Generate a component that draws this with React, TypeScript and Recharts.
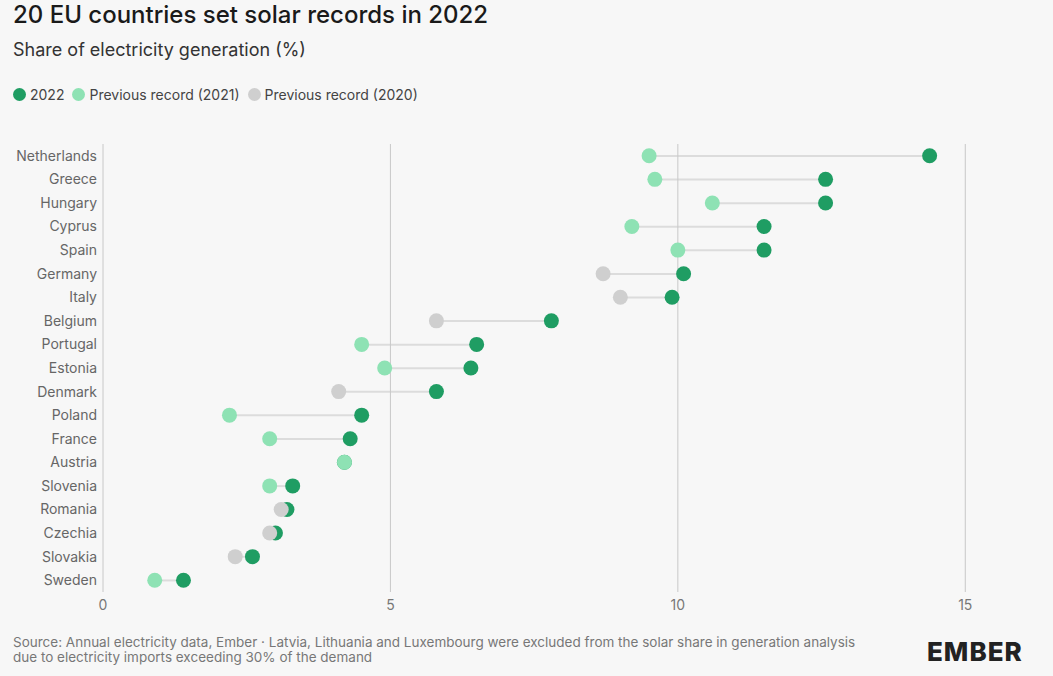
import React from 'react';
import { ComposedChart, Bar, Line, XAxis, YAxis, ReferenceLine } from 'recharts';

const countries = ['Netherlands', 'Greece', 'Hungary', 'Cyprus', 'Spain', 'Germany', 'Italy', 'Belgium', 'Portugal', 'Estonia', 'Denmark', 'Poland', 'France', 'Austria', 'Slovenia', 'Romania', 'Czechia', 'Slovakia', 'Sweden'];
const share2022 = [14.38, 12.57, 12.57, 11.5, 11.5, 10.1, 9.9, 7.8, 6.5, 6.4, 5.8, 4.5, 4.3, 4.2, 3.3, 3.2, 3.0, 2.6, 1.4];
const record2021 = [9.5, 9.6, 10.6, 9.2, 10.0, null, null, null, 4.5, 4.9, null, 2.2, 2.9, 4.2, 2.9, null, null, null, 0.9];
const record2020 = [null, null, null, null, null, 8.7, 9.0, 5.8, null, null, 4.1, null, null, null, null, 3.1, 2.9, 2.3, null];
const xTicks = [0, 5, 10, 15];

const C2022 = '#1f9d63';
const C2021 = '#8ee2b4';
const C2020 = '#cfcfcf';
const FONT = 'Inter, "Noto Sans", sans-serif';

const data = countries.map((name, i) => {
    const prev = record2021[i] ?? record2020[i] ?? share2022[i];
    return {
        name,
        v2022: share2022[i],
        v2021: record2021[i],
        v2020: record2020[i],
        range: [Math.min(share2022[i], prev), Math.max(share2022[i], prev)],
    };
});

const makeDot = (color: string) => (props: any) => {
    const { cx, cy, value, index } = props;
    if (value == null || cx == null) return <g key={index} />;
    return <circle key={index} cx={cx} cy={cy} r={7.5} fill={color} />;
};

const LegendItem = ({ color, label }: { color: string; label: string }) => (
    <span style={{ display: 'inline-flex', alignItems: 'center', marginRight: 8 }}>
        <span style={{ width: 13, height: 13, borderRadius: '50%', background: color, display: 'inline-block', marginRight: 4 }} />
        {label}
    </span>
);

export default function App() {
    return (
        <div style={{ position: 'fixed', left: 0, top: 0, width: 1053, height: 676, background: '#f7f7f7', fontFamily: FONT, color: '#222' }}>
            <div style={{ position: 'absolute', left: 13, top: 0, fontSize: 24, fontWeight: 500, color: '#1a1a1a' }}>20 EU countries set solar records in 2022</div>
            <div style={{ position: 'absolute', left: 13, top: 39, fontSize: 18, color: '#333' }}>Share of electricity generation (%)</div>
            <div style={{ position: 'absolute', left: 13, top: 86, fontSize: 14, color: '#444' }}>
                <LegendItem color={C2022} label="2022" />
                <LegendItem color={C2021} label="Previous record (2021)" />
                <LegendItem color={C2020} label="Previous record (2020)" />
            </div>
            <div style={{ position: 'absolute', left: 0, top: 0 }}>
                <ComposedChart width={1053} height={676} data={data} layout="vertical" margin={{ top: 144, right: 13, bottom: 54, left: 0 }}>
                    <XAxis type="number" domain={[0, 16.3]} ticks={xTicks} axisLine={false} tickLine={false} tick={{ fill: '#777', fontSize: 14, fontFamily: FONT }} />
                    <YAxis type="category" dataKey="name" width={103} axisLine={false} tickLine={false} tick={{ fill: '#666', fontSize: 14, fontFamily: FONT }} tickMargin={0} />
                    {xTicks.map((t) => (
                        <ReferenceLine key={t} x={t} stroke="#c8c8c8" />
                    ))}
                    <Bar dataKey="range" barSize={2} fill="#dcdcdc" isAnimationActive={false} />
                    <Line dataKey="v2022" stroke="none" dot={makeDot(C2022)} activeDot={false} isAnimationActive={false} />
                    <Line dataKey="v2020" stroke="none" dot={makeDot(C2020)} activeDot={false} isAnimationActive={false} />
                    <Line dataKey="v2021" stroke="none" dot={makeDot(C2021)} activeDot={false} isAnimationActive={false} />
                </ComposedChart>
            </div>
            <div style={{ position: 'absolute', left: 13, top: 635, fontSize: 13.5, color: '#777', lineHeight: '15px', width: 850 }}>
                Source: Annual electricity data, Ember · Latvia, Lithuania and Luxembourg were excluded from the solar share in generation analysis due to electricity imports exceeding 30% of the demand
            </div>
            <div style={{ position: 'absolute', left: 927, top: 636, fontSize: 26, fontWeight: 800, letterSpacing: 1, color: '#222' }}>EMBER</div>
        </div>
    );
}
